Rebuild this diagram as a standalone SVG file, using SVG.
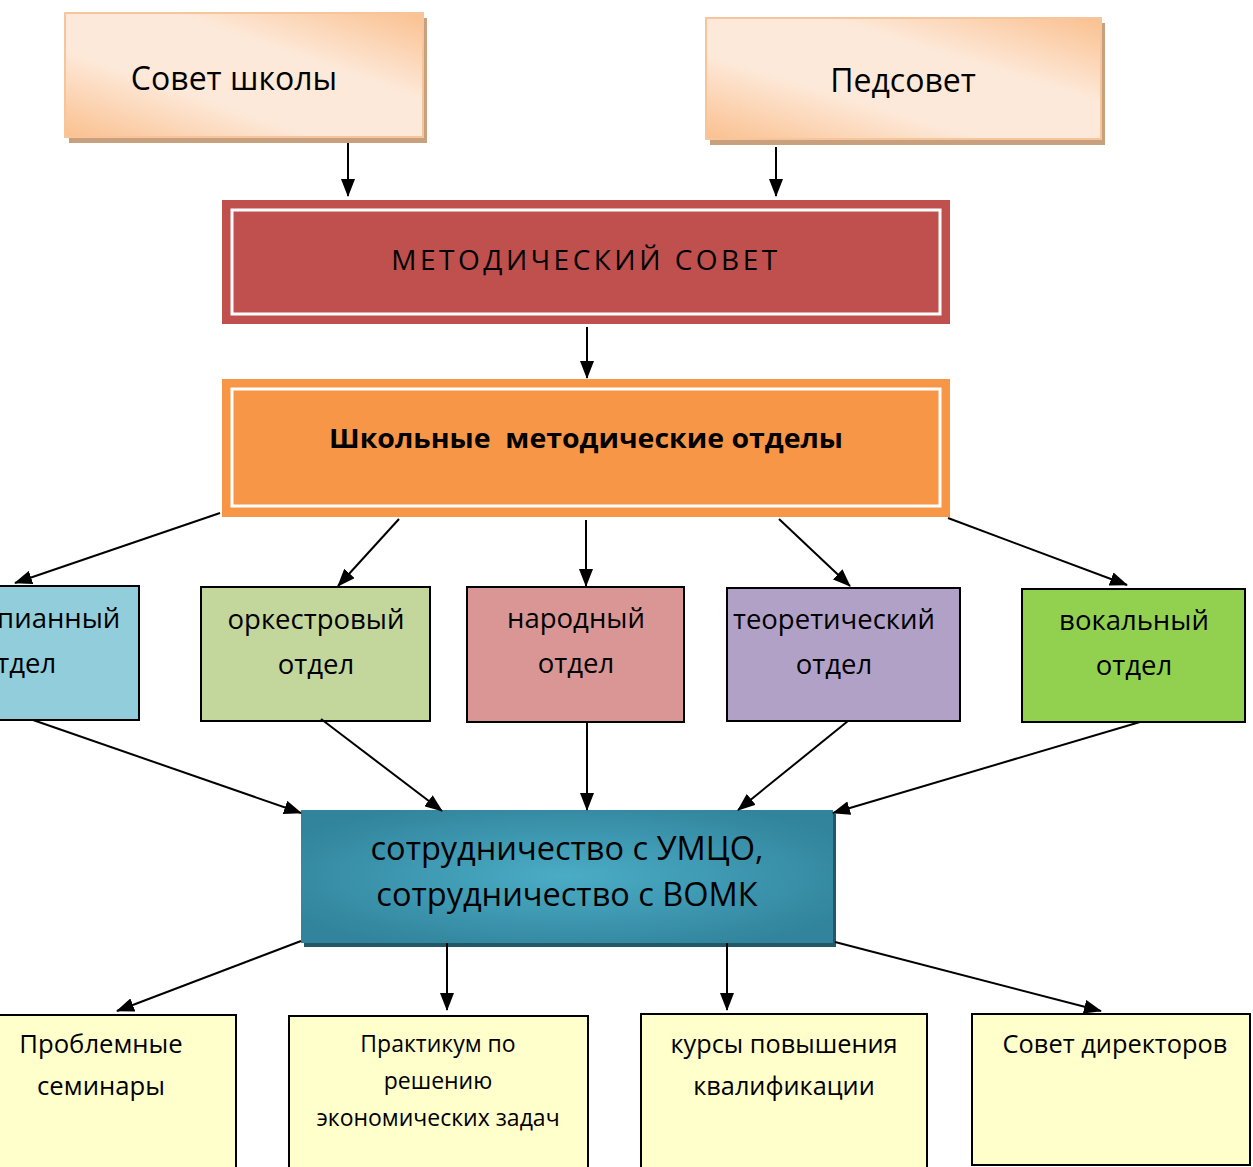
<svg xmlns="http://www.w3.org/2000/svg" width="1253" height="1167" viewBox="0 0 1253 1167">
<defs>
<linearGradient id="peach" x1="0" y1="1" x2="1" y2="0">
<stop offset="0" stop-color="#fac08f"/>
<stop offset="0.35" stop-color="#fde9d9"/>
<stop offset="0.65" stop-color="#fde9d9"/>
<stop offset="1" stop-color="#fac08f"/>
</linearGradient>
<radialGradient id="teal" cx="0.5" cy="0.5" r="0.6">
<stop offset="0" stop-color="#4bacc6"/>
<stop offset="1" stop-color="#31849b"/>
</radialGradient>
<marker id="ah" markerUnits="userSpaceOnUse" markerWidth="18" markerHeight="14" refX="17" refY="7" orient="auto">
<path d="M0,0 L18,7 L0,14 Z" fill="#000"/>
</marker>
<style>
.t{font-family:"Open Sans","Noto Sans","DejaVu Sans",sans-serif;fill:#000;text-anchor:middle}
.dept{stroke:#000;stroke-width:2}
.yel{fill:#ffffcc;stroke:#000;stroke-width:2}
.c{stroke:#000;stroke-width:2;fill:none;marker-end:url(#ah)}
</style>
</defs>
<rect width="1253" height="1167" fill="#fff"/>

<g id="node-sovet-shkoly">
<rect x="69" y="18" width="358" height="125" fill="#c9a07e"/>
<rect x="65" y="13" width="358" height="124" fill="url(#peach)" stroke="#f7c59c" stroke-width="2"/>
<text class="t" x="234" y="90" font-size="32">Совет школы</text>
</g>

<g id="node-pedsovet">
<rect x="710" y="23" width="395" height="122" fill="#c9a07e"/>
<rect x="706" y="18" width="395" height="121" fill="url(#peach)" stroke="#f7c59c" stroke-width="2"/>
<text class="t" x="903" y="92" font-size="32">Педсовет</text>
</g>

<g id="node-metod-sovet">
<rect x="222" y="200" width="728" height="124" fill="#c0504d"/>
<rect x="232" y="210" width="708" height="104" fill="none" stroke="#fff" stroke-width="3"/>
<text class="t" x="586" y="270" font-size="28" letter-spacing="3.5">МЕТОДИЧЕСКИЙ СОВЕТ</text>
</g>

<g id="node-shmo">
<rect x="222" y="379" width="728" height="138" fill="#f79646"/>
<rect x="232" y="389" width="708" height="117" fill="none" stroke="#fff" stroke-width="3"/>
<text class="t" x="586" y="448" font-size="27" font-weight="bold" textLength="514" lengthAdjust="spacingAndGlyphs" xml:space="preserve">Школьные  методические отделы</text>
</g>

<g id="node-fortepiano">
<rect class="dept" x="-92" y="586" width="231" height="134" fill="#92cddc"/>
<text class="t" x="18" y="628" font-size="27.5">фортепианный</text>
<text class="t" x="18" y="673" font-size="27.5">отдел</text>
</g>

<g id="node-orkestr">
<rect class="dept" x="201" y="587" width="229" height="134" fill="#c3d69b"/>
<text class="t" x="316" y="629" font-size="27.5">оркестровый</text>
<text class="t" x="316" y="674" font-size="27.5">отдел</text>
</g>

<g id="node-narodny">
<rect class="dept" x="467" y="587" width="217" height="135" fill="#d99694"/>
<text class="t" x="576" y="628" font-size="27.5">народный</text>
<text class="t" x="576" y="673" font-size="27.5">отдел</text>
</g>

<g id="node-teoret">
<rect class="dept" x="727" y="588" width="233" height="133" fill="#b2a1c7"/>
<text class="t" x="834" y="629" font-size="27.5">теоретический</text>
<text class="t" x="834" y="674" font-size="27.5">отдел</text>
</g>

<g id="node-vokal">
<rect class="dept" x="1022" y="589" width="223" height="133" fill="#92d050"/>
<text class="t" x="1134" y="630" font-size="27.5">вокальный</text>
<text class="t" x="1134" y="675" font-size="27.5">отдел</text>
</g>

<g id="node-sotrud">
<rect x="304" y="814" width="532" height="133" fill="#215968"/>
<rect x="301" y="810" width="532" height="133" fill="url(#teal)"/>
<text class="t" x="567" y="860" font-size="32.5">сотрудничество с УМЦО,</text>
<text class="t" x="567" y="906" font-size="32.5">сотрудничество с ВОМК</text>
</g>

<g id="node-seminary">
<rect class="yel" x="-36" y="1015" width="272" height="160"/>
<text class="t" x="101" y="1053" font-size="25.7">Проблемные</text>
<text class="t" x="101" y="1095" font-size="25.7">семинары</text>
</g>

<g id="node-praktikum">
<rect class="yel" x="289" y="1016" width="299" height="160"/>
<text class="t" x="438" y="1052" font-size="23">Практикум по</text>
<text class="t" x="438" y="1089" font-size="23">решению</text>
<text class="t" x="438" y="1126" font-size="23">экономических задач</text>
</g>

<g id="node-kursy">
<rect class="yel" x="641" y="1014" width="286" height="160"/>
<text class="t" x="784" y="1053" font-size="25.3">курсы повышения</text>
<text class="t" x="784" y="1095" font-size="25.3">квалификации</text>
</g>

<g id="node-sovet-direktorov">
<rect class="yel" x="972" y="1014" width="278" height="151"/>
<text class="t" x="1115" y="1053" font-size="25.4">Совет директоров</text>
</g>

<g id="connectors">
<line class="c" x1="348" y1="143" x2="348" y2="196"/>
<line class="c" x1="776" y1="147" x2="776" y2="196"/>
<line class="c" x1="587" y1="327" x2="587" y2="378"/>
<line class="c" x1="220" y1="513" x2="15" y2="583"/>
<line class="c" x1="399" y1="519" x2="338" y2="586"/>
<line class="c" x1="586" y1="520" x2="586" y2="586"/>
<line class="c" x1="779" y1="519" x2="850" y2="586"/>
<line class="c" x1="948" y1="518" x2="1127" y2="585"/>
<line class="c" x1="33" y1="720" x2="301" y2="813"/>
<line class="c" x1="321" y1="719" x2="442" y2="811"/>
<line class="c" x1="587" y1="722" x2="587" y2="810"/>
<line class="c" x1="848" y1="721" x2="738" y2="810"/>
<line class="c" x1="1140" y1="722" x2="833" y2="813"/>
<line class="c" x1="301" y1="941" x2="117" y2="1011"/>
<line class="c" x1="447" y1="943" x2="447" y2="1010"/>
<line class="c" x1="727" y1="943" x2="727" y2="1010"/>
<line class="c" x1="835" y1="942" x2="1101" y2="1011"/>
</g>
</svg>
